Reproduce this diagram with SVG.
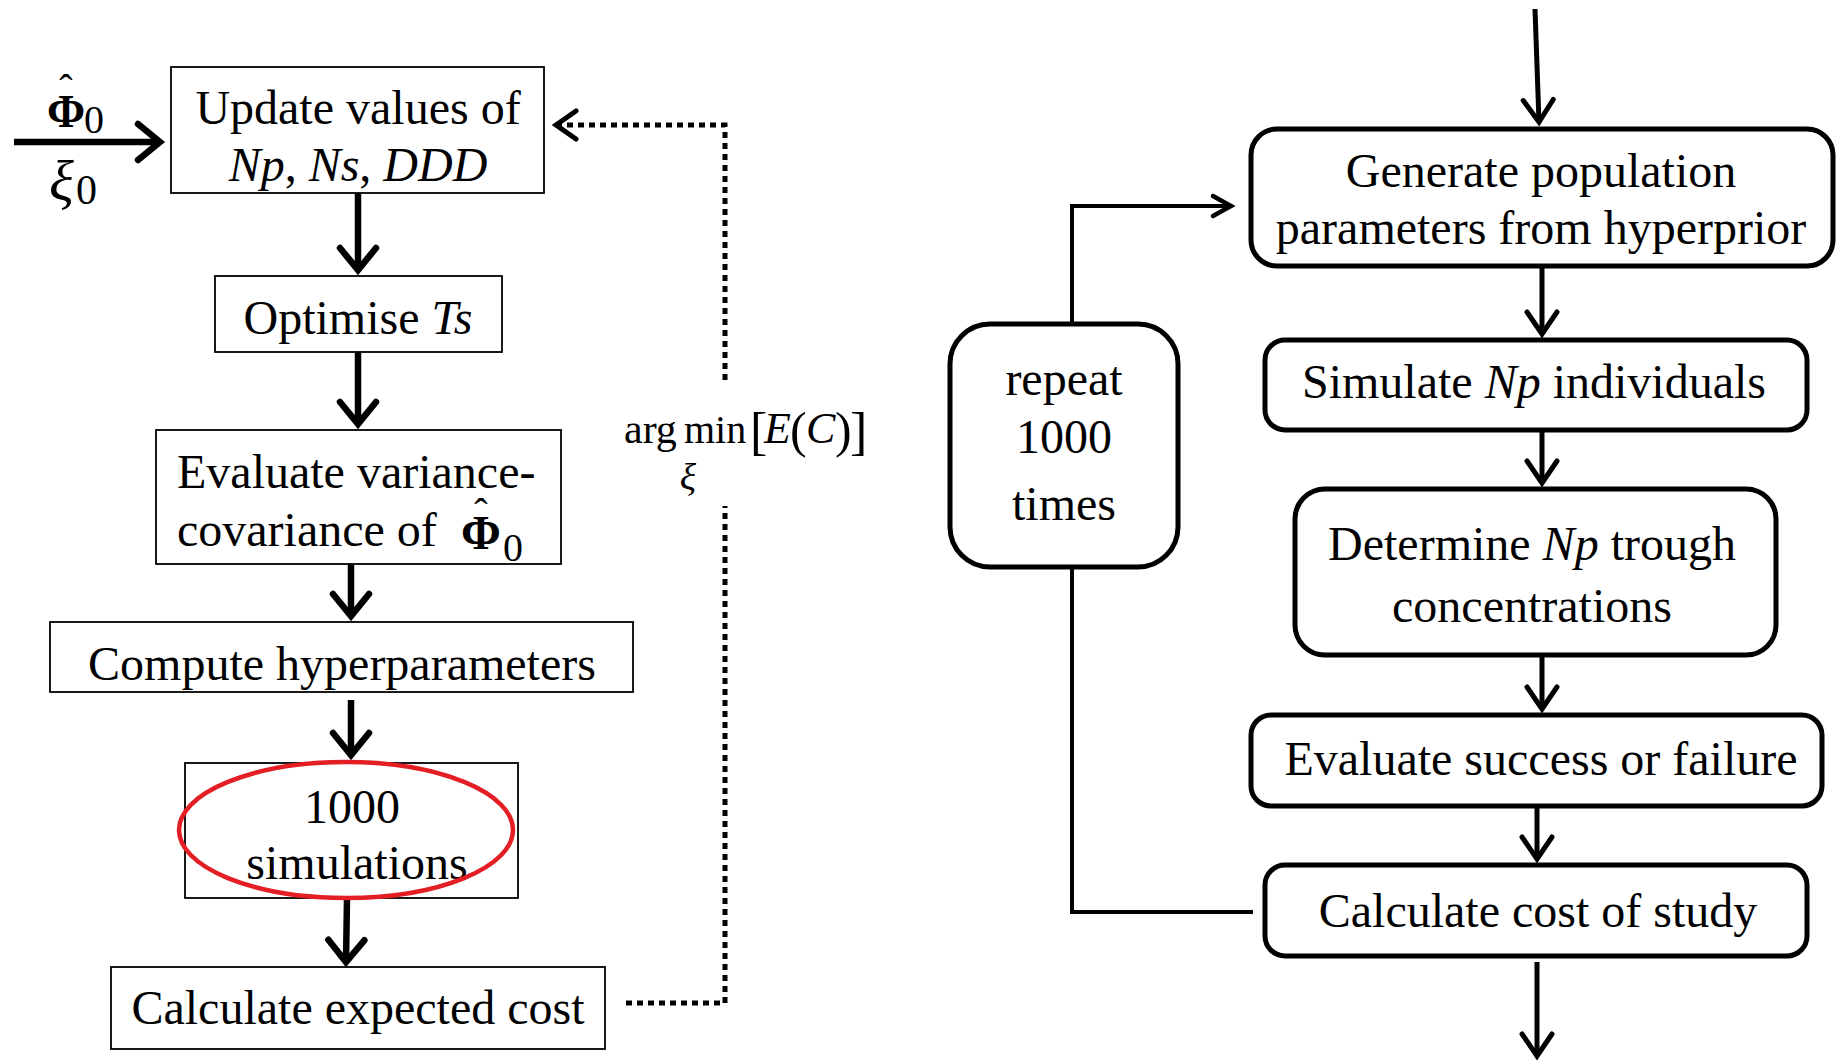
<svg xmlns="http://www.w3.org/2000/svg" width="1836" height="1062" viewBox="0 0 1836 1062">
<style>
.t{font-family:"Liberation Serif","Times New Roman",serif;fill:#000}
.f{font-size:48px}
.c{text-anchor:middle}
.i{font-style:italic}
.b{font-weight:bold}
.bx{fill:#fff;stroke:#000;stroke-width:1.8}
.rb{fill:#fff;stroke:#000;stroke-width:5}
.cl{fill:none;stroke:#000;stroke-width:6.5}
.cr{fill:none;stroke:#000;stroke-width:5}
.cs{fill:none;stroke:#000;stroke-width:4}
.dot{fill:none;stroke:#000;stroke-width:5;stroke-dasharray:6 5}
</style>
<defs>
<marker id="mL" markerUnits="userSpaceOnUse" orient="auto" markerWidth="1" markerHeight="1" refX="0" refY="0" overflow="visible">
<path d="M-22,-18 L0,0 L-22,18" fill="none" stroke="#000" stroke-width="6.5" stroke-linecap="round"/>
</marker>
<marker id="mR" markerUnits="userSpaceOnUse" orient="auto" markerWidth="1" markerHeight="1" refX="0" refY="0" overflow="visible">
<path d="M-22,-15 L0,0 L-22,15" fill="none" stroke="#000" stroke-width="5" stroke-linecap="round"/>
</marker>
<marker id="mS" markerUnits="userSpaceOnUse" orient="auto" markerWidth="1" markerHeight="1" refX="0" refY="0" overflow="visible">
<path d="M-18,-10 L0,0 L-18,10" fill="none" stroke="#000" stroke-width="4.5" stroke-linecap="round"/>
</marker>
<marker id="mD" markerUnits="userSpaceOnUse" orient="auto" markerWidth="1" markerHeight="1" refX="0" refY="0" overflow="visible">
<path d="M-20,-14 L0,0 L-20,14" fill="none" stroke="#000" stroke-width="5" stroke-linecap="round"/>
</marker>
</defs>
<rect width="1836" height="1062" fill="#fff"/>

<g id="connectors">
<line class="cl" x1="14" y1="142" x2="160" y2="142" marker-end="url(#mL)"/>
<line class="cl" x1="358" y1="193" x2="358" y2="270" marker-end="url(#mL)"/>
<line class="cl" x1="358" y1="352" x2="358" y2="424" marker-end="url(#mL)"/>
<line class="cl" x1="351" y1="564" x2="351" y2="616" marker-end="url(#mL)"/>
<line class="cl" x1="351" y1="700" x2="351" y2="755" marker-end="url(#mL)"/>
<line class="cl" x1="347" y1="898" x2="346" y2="962" marker-end="url(#mL)"/>
<path class="dot" d="M626,1003 H725 V506"/>
<path class="dot" d="M725,380 V125 H556" marker-end="url(#mD)"/>
<line class="cr" x1="1535" y1="9" x2="1539" y2="122" marker-end="url(#mR)"/>
<line class="cr" x1="1542" y1="266" x2="1542" y2="334" marker-end="url(#mR)"/>
<line class="cr" x1="1542" y1="430" x2="1542" y2="483" marker-end="url(#mR)"/>
<line class="cr" x1="1542" y1="655" x2="1542" y2="709" marker-end="url(#mR)"/>
<line class="cr" x1="1537" y1="806" x2="1537" y2="859" marker-end="url(#mR)"/>
<line class="cr" x1="1537" y1="962" x2="1537" y2="1056" marker-end="url(#mR)"/>
<path class="cs" d="M1072,324 V206 H1231" marker-end="url(#mS)"/>
<path class="cs" d="M1072,567 V912 H1253"/>
</g>

<g id="input-labels">
<text class="t b" x="66" y="127" text-anchor="middle" style="font-size:46px">Φ</text>
<text class="t" x="66" y="102" text-anchor="middle" style="font-size:40px">ˆ</text>
<text class="t" x="84" y="133" style="font-size:40px">0</text>
<text class="t i" x="49" y="200" style="font-size:58px">ξ</text>
<text class="t" x="76" y="204" style="font-size:42px">0</text>
</g>

<g id="argmin-label">
<text class="t" x="624" y="443" style="font-size:42px">arg</text>
<text class="t" x="684" y="443" style="font-size:40px">min</text>
<text class="t" x="750" y="449" style="font-size:52px">[</text>
<text class="t i" x="764" y="443" style="font-size:44px">E</text>
<text class="t" x="790" y="447" style="font-size:50px">(</text>
<text class="t i" x="806" y="443" style="font-size:44px">C</text>
<text class="t" x="835" y="447" style="font-size:50px">)</text>
<text class="t" x="850" y="449" style="font-size:52px">]</text>
<text class="t i" x="688" y="490" text-anchor="middle" style="font-size:38px">ξ</text>
</g>

<g id="n-update">
<rect class="bx" x="171" y="67" width="373" height="126"/>
<text class="t f c" x="358" y="124">Update values of</text>
<text class="t f c" x="358" y="181"><tspan class="i">Np</tspan>, <tspan class="i">Ns</tspan>, <tspan class="i">DDD</tspan></text>
</g>

<g id="n-optimise">
<rect class="bx" x="215" y="276" width="287" height="76"/>
<text class="t f c" x="358" y="334">Optimise <tspan class="i">Ts</tspan></text>
</g>

<g id="n-evaluate-var">
<rect class="bx" x="156" y="430" width="405" height="134"/>
<text class="t f" x="177" y="488">Evaluate variance-</text>
<text class="t f" x="177" y="546">covariance of</text>
<text class="t b" x="481" y="549" text-anchor="middle" style="font-size:48px">Φ</text>
<text class="t" x="481" y="526" text-anchor="middle" style="font-size:40px">ˆ</text>
<text class="t" x="503" y="561" style="font-size:40px">0</text>
</g>

<g id="n-compute">
<rect class="bx" x="50" y="622" width="583" height="70"/>
<text class="t f c" x="342" y="680">Compute hyperparameters</text>
</g>

<g id="n-sim">
<rect class="bx" x="185" y="763" width="333" height="135"/>
<text class="t f c" x="352" y="823">1000</text>
<text class="t f c" x="357" y="879">simulations</text>
<ellipse cx="346" cy="830" rx="167" ry="68" fill="none" stroke="#e31e24" stroke-width="4.5"/>
</g>

<g id="n-calc-expected">
<rect class="bx" x="111" y="967" width="494" height="82"/>
<text class="t f c" x="358" y="1024">Calculate expected cost</text>
</g>

<g id="n-repeat">
<rect class="rb" x="950" y="324" width="228" height="243" rx="40"/>
<text class="t f c" x="1064" y="395">repeat</text>
<text class="t f c" x="1064" y="453">1000</text>
<text class="t f c" x="1064" y="520">times</text>
</g>

<g id="n-generate">
<rect class="rb" x="1251" y="129" width="582" height="137" rx="26"/>
<text class="t f c" x="1541" y="187">Generate population</text>
<text class="t f c" x="1541" y="244">parameters from hyperprior</text>
</g>

<g id="n-simulate">
<rect class="rb" x="1265" y="340" width="542" height="90" rx="20"/>
<text class="t f c" x="1534" y="398">Simulate <tspan class="i">Np</tspan> individuals</text>
</g>

<g id="n-determine">
<rect class="rb" x="1295" y="489" width="481" height="166" rx="30"/>
<text class="t f c" x="1532" y="560">Determine <tspan class="i">Np</tspan> trough</text>
<text class="t f c" x="1532" y="622">concentrations</text>
</g>

<g id="n-evaluate-success">
<rect class="rb" x="1251" y="715" width="571" height="91" rx="20"/>
<text class="t f c" x="1541" y="775">Evaluate success or failure</text>
</g>

<g id="n-calc-cost">
<rect class="rb" x="1265" y="865" width="542" height="91" rx="20"/>
<text class="t f c" x="1538" y="927">Calculate cost of study</text>
</g>
</svg>
